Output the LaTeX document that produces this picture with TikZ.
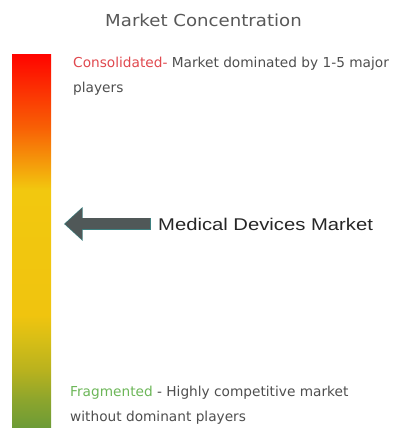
\documentclass[tikz,border=0pt]{standalone}
\usepackage{fontspec}
\setmainfont{DejaVu Sans}
\newfontfamily\arialfont{Liberation Sans}
\usetikzlibrary{positioning, arrows.meta}

\definecolor{titlegray}{RGB}{88,88,88}
\definecolor{textgray}{RGB}{78,78,78}
\definecolor{consred}{RGB}{224,72,78}
\definecolor{fraggreen}{RGB}{108,182,88}
\definecolor{pointergray}{RGB}{80,88,88}
\definecolor{pointerteal}{RGB}{62,128,128}
\definecolor{barred}{RGB}{255,5,0}
\definecolor{barorange}{RGB}{248,95,5}
\definecolor{baramber}{RGB}{245,150,10}
\definecolor{baryellow}{RGB}{242,200,15}
\definecolor{baryellowb}{RGB}{240,196,15}
\definecolor{bargold}{RGB}{215,190,22}
\definecolor{barolive}{RGB}{185,178,30}
\definecolor{barlime}{RGB}{140,165,45}
\definecolor{bargreen}{RGB}{108,155,55}

% bottom (fragmented) to top (consolidated)
\pgfdeclareverticalshading{concentration}{100bp}{%
  color(0bp)=(bargreen); color(25bp)=(bargreen);
  color(28.75bp)=(barlime); color(32.77bp)=(barolive);
  color(36.8bp)=(bargold); color(40.15bp)=(baryellowb);
  color(56.9bp)=(baryellow); color(60.9bp)=(baramber);
  color(65.35bp)=(barorange); color(75bp)=(barred); color(100bp)=(barred)}

\begin{document}
\begin{tikzpicture}[x=1pt, y=-1pt,
		bar/.style={rectangle, shade, shading=concentration, inner sep=0pt, outer sep=0pt, minimum width=39pt, minimum height=373pt},
		titletext/.style={font=\fontsize{16.5}{20}\selectfont, text=titlegray, inner sep=0pt},
		desc/.style={font=\fontsize{13.7}{25}\selectfont, text=textgray, align=left, inner sep=0pt},
		marketlabel/.style={font=\arialfont\fontsize{17}{20}\selectfont, text=black!85, inner sep=3pt},
		pointer/.style={line width=11pt, pointergray, -{Triangle[width=30pt, length=17pt]}},
		pointeredge/.style={line width=12.4pt, pointerteal, -{Triangle[width=32.5pt, length=18.5pt]}}
	]
	\useasboundingbox (0,0) rectangle (393,428);

	\node[bar] (bar) at (31.5,241.5) {};
	\node[titletext, anchor=base] (title) at (203.5,27) {\scalebox{1.1}[1]{Market Concentration}};
	% multi-line nodes: base is the last line
	\node[desc, anchor=base west] (cons) at (73,92.5) {{\color{consred}Consolidated-} Market dominated by 1-5 major\\players};
	\node[desc, anchor=base west] (frag) at (70,421.5) {{\color{fraggreen}Fragmented} - Highly competitive market\\without dominant players};
	\node[marketlabel, anchor=base west] (market) at (155,230) {\scalebox{1.19}[1]{Medical Devices Market}};

	\draw[pointeredge, shorten <=4.3pt, shorten >=13pt] (market.west) -- (bar.east |- market.west);
	\draw[pointer, shorten <=5pt, shorten >=14pt] (market.west) -- (bar.east |- market.west);

\end{tikzpicture}
\end{document}
